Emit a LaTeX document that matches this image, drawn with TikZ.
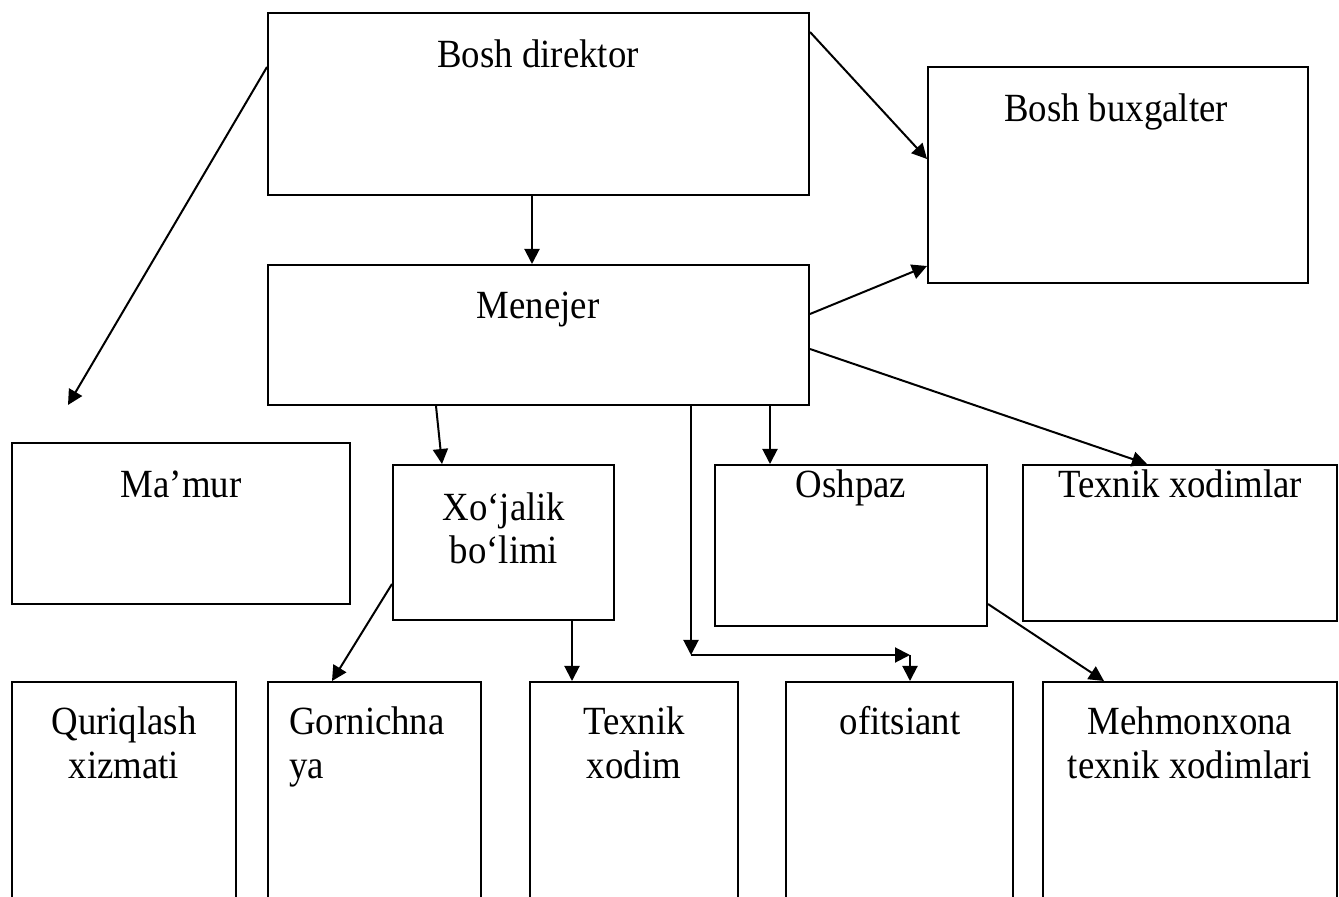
\documentclass[tikz,border=0pt]{standalone}
\usepackage{fontspec}
\setmainfont{Liberation Serif}[FakeStretch=0.92]
\usetikzlibrary{arrows.meta,calc,fit}
\begin{document}
\begin{tikzpicture}[x=0.5pt,y=-0.5pt,
  box/.style={draw, line width=1pt, inner sep=0pt},
  lbl/.style={font=\fontsize{20}{24}\selectfont, anchor=base, inner sep=0pt},
  arr/.style={line width=1pt, -{Triangle[length=7.5pt,width=7.5pt]}}]
\useasboundingbox (0,0) rectangle (1339,897);
\clip (0,0) rectangle (1339,897);
% boxes
\node[box, fit={(268,13) (809,195)}] (bd) {};
\node[box, fit={(928,67) (1308,283)}] (bb) {};
\node[box, fit={(268,265) (809,405)}] (men) {};
\node[box, fit={(12,443) (350,604)}] (mam) {};
\node[box, fit={(393,465) (614,620)}] (xj) {};
\node[box, fit={(715,465) (987,626)}] (osh) {};
\node[box, fit={(1023,465) (1337,621)}] (tx) {};
\node[box, fit={(12,682) (236,930)}] (q) {};
\node[box, fit={(268,682) (481,930)}] (g) {};
\node[box, fit={(530,682) (738,930)}] (tk) {};
\node[box, fit={(786,682) (1013,930)}] (of) {};
\node[box, fit={(1043,682) (1337,930)}] (mh) {};
% texts
\node[lbl] (bdt) at (538,68) {Bosh direktor};
\node[lbl] (bbt) at (1116,122) {Bosh buxgalter};
\node[lbl] (ment) at (538,319) {Menejer};
\node[lbl] (mamt) at (181,498) {Ma’mur};
\node[lbl] (xjt1) at (504,521) {Xo‘jalik};
\node[lbl] (xjt2) at (504,564) {bo‘limi};
\node[lbl] (osht) at (851,498) {Oshpaz};
\node[lbl] (txt) at (1180,498) {Texnik xodimlar};
\node[lbl] (qt1) at (124,734) {Quriqlash};
\node[lbl] (qt2) at (124,778) {xizmati};
\node[lbl, anchor=base west] (gt1) at (289,734) {Gornichna};
\node[lbl, anchor=base west] (gt2) at (289,778) {ya};
\node[lbl] (tkt1) at (634,734) {Texnik};
\node[lbl] (tkt2) at (634,778) {xodim};
\node[lbl] (oft) at (900,734) {ofitsiant};
\node[lbl] (mht1) at (1190,734) {Mehmonxona};
\node[lbl] (mht2) at (1190,778) {texnik xodimlari};
% connectors
\coordinate (mfree) at (68,405);
\draw[arr] ($(bd.north west)+(0,55)$) -- (mfree);
\draw[arr] ($(bd.north east)+(0,20)$) -- ($(bb.north west)+(0,93)$);
\draw[arr] ($(bd.south west)+(265,0)$) -- ($(men.north west)+(265,0)$);
\draw[arr] ($(men.north east)+(0,50)$) -- ($(bb.south west)+(0,-18)$);
\draw[arr] ($(men.north east)+(0,85)$) -- ($(tx.north west)+(125,0)$);
\draw[arr] ($(men.south west)+(169,0)$) -- ($(xj.north west)+(50,0)$);
\coordinate (oshin) at ($(osh.north west)+(56,0)$);
\draw[arr] (oshin |- men.south) -- (oshin);
\coordinate (c1) at (691,655);
\coordinate (c2) at (910,655);
\draw[arr] (c1 |- men.south) -- (c1);
\draw[arr] (c1) -- (c2);
\draw[arr] (c2) -- (c2 |- of.north);
\draw[arr] ($(xj.north west)+(0,120)$) -- ($(g.north west)+(65,0)$);
\draw[arr] ($(xj.south west)+(180,0)$) -- ($(tk.north west)+(43,0)$);
\draw[arr] ($(osh.north east)+(0,140)$) -- ($(mh.north west)+(62,0)$);
\end{tikzpicture}
\end{document}
